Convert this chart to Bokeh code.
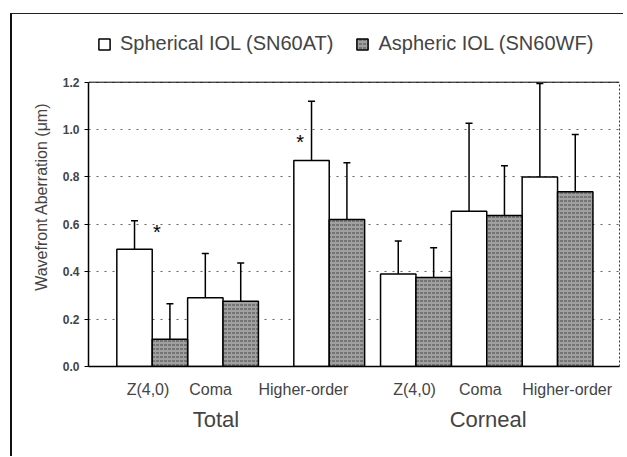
from bokeh.plotting import figure
from bokeh.models import (ColumnDataSource, Whisker, TeeHead, FixedTicker, LinearAxis,
                          Legend, LegendItem, Span, Range1d, Label)
from bokeh.embed import file_html
from bokeh.resources import INLINE

# ---------------- data ----------------
groups = ["Total", "Corneal"]
categories = ["Z(4,0)", "Coma", "Higher-order"]
series = ["Spherical IOL (SN60AT)", "Aspheric IOL (SN60WF)"]

spherical_total = [0.495, 0.29, 0.87]
spherical_total_sd = [0.12, 0.187, 0.25]
aspheric_total = [0.115, 0.275, 0.62]
aspheric_total_sd = [0.15, 0.162, 0.24]

spherical_corneal = [0.39, 0.655, 0.80]
spherical_corneal_sd = [0.14, 0.372, 0.395]
aspheric_corneal = [0.376, 0.637, 0.738]
aspheric_corneal_sd = [0.125, 0.21, 0.241]

y_ticks = [0.0, 0.2, 0.4, 0.6, 0.8, 1.0, 1.2]
y_tick_labels = ["0.0", "0.2", "0.4", "0.6", "0.8", "1.0", "1.2"]
Y_MAX = 1.2

significant = [("Total", "Z(4,0)"), ("Total", "Higher-order")]
star_y = [0.585, 0.965]

# ---------------- layout (bar-width units) ----------------
GROUP_START = {"Total": 0.8, "Corneal": 8.25}
CAT_SLOT = {"Total": [0, 2, 5], "Corneal": [0, 2, 4]}
LABEL_OFF = {"Total": [0.88, 2.65, 5.27], "Corneal": [0.96, 2.82, 5.27]}
GROUP_LABEL_OFF = {"Total": 2.8, "Corneal": 3.04}
STAR_OFF = {"Z(4,0)": 1.13, "Higher-order": 0.18}
FRAME_TOP = 1.452   # frame extends above the axis top to host the legend
FONT = "Liberation Sans"

sph_vals = {"Total": spherical_total, "Corneal": spherical_corneal}
sph_sd = {"Total": spherical_total_sd, "Corneal": spherical_corneal_sd}
asp_vals = {"Total": aspheric_total, "Corneal": aspheric_corneal}
asp_sd = {"Total": aspheric_total_sd, "Corneal": aspheric_corneal_sd}

def build(vals, sds, shift):
    xs, tops, errs = [], [], []
    for g in groups:
        for i, c in enumerate(categories):
            xs.append(GROUP_START[g] + CAT_SLOT[g][i] + shift)
            tops.append(vals[g][i])
            errs.append(vals[g][i] + sds[g][i])
    return ColumnDataSource(dict(x=xs, top=tops, err=errs))

src_sph = build(sph_vals, sph_sd, 0.5)
src_asp = build(asp_vals, asp_sd, 1.5)

p = figure(width=613, height=443, output_backend="svg", toolbar_location=None,
           x_range=Range1d(0, 15), y_range=Range1d(0, FRAME_TOP),
           min_border_left=76, min_border_right=6, min_border_top=8, min_border_bottom=91,
           background_fill_color="white", border_fill_color="white")
p.outline_line_color = None
p.styles = {"border-left": "2px solid #111111", "border-top": "1px solid #222222",
            "margin-left": "10px", "margin-top": "13px"}

r_sph = p.vbar(x="x", top="top", width=1.0, bottom=0, source=src_sph,
               fill_color="white", line_color="black", line_width=1.5)
r_asp = p.vbar(x="x", top="top", width=1.0, bottom=0, source=src_asp,
               fill_color="#a0a0a0", line_color="black", line_width=1.5,
               hatch_pattern="horizontal_dash", hatch_color="#333333",
               hatch_scale=4, hatch_weight=1, hatch_alpha=0.8)

for src in (src_sph, src_asp):
    w = Whisker(base="x", lower="top", upper="err", source=src, dimension="height",
                line_color="black", line_width=1.5,
                upper_head=TeeHead(size=7, line_color="black", line_width=1.5),
                lower_head=None)
    p.add_layout(w)

# significance stars
for (g, c), sy in zip(significant, star_y):
    i = categories.index(c)
    sx = GROUP_START[g] + CAT_SLOT[g][i] + STAR_OFF[c]
    p.add_layout(Label(x=sx, y=sy, text="*", text_font=FONT, text_font_size="20px",
                       text_align="center", text_baseline="middle", text_color="black",
                       y_offset=-4))

# top line of the plot box
p.add_layout(Span(location=Y_MAX, dimension="width", line_color="black", line_width=1))

# y axis
p.yaxis.bounds = (0, Y_MAX)
p.yaxis.ticker = FixedTicker(ticks=y_ticks)
p.yaxis.major_label_overrides = dict(zip(y_ticks, y_tick_labels))
p.yaxis.axis_label = "Wavefront Aberration  (\u03bcm)"
p.yaxis.axis_label_text_font = FONT
p.yaxis.axis_label_text_font_style = "normal"
p.yaxis.axis_label_text_font_size = "16px"
p.yaxis.axis_label_standoff = 10
p.yaxis.major_label_text_font = FONT
p.yaxis.major_label_text_font_style = "bold"
p.yaxis.major_label_text_font_size = "12px"
p.yaxis.major_label_standoff = 5
p.yaxis.major_tick_out = 4
p.yaxis.major_tick_in = 0
p.yaxis.minor_tick_line_color = None
p.yaxis.axis_line_width = 1.5
p.yaxis.axis_line_color = "black"

# right dotted side of the plot box
rax = LinearAxis(bounds=(0, Y_MAX), ticker=FixedTicker(ticks=[]),
                 major_tick_line_color=None, minor_tick_line_color=None,
                 axis_line_color="#333333", axis_line_dash="2 2", axis_line_width=1)
p.add_layout(rax, "right")

# x axis: category labels
cat_ticks, cat_over = [], {}
for g in groups:
    for i, c in enumerate(categories):
        t = GROUP_START[g] + LABEL_OFF[g][i]
        cat_ticks.append(t)
        cat_over[t] = c
p.xaxis.ticker = FixedTicker(ticks=cat_ticks)
p.xaxis.major_label_overrides = cat_over
p.xaxis.major_tick_line_color = None
p.xaxis.major_tick_out = 0
p.xaxis.minor_tick_line_color = None
p.xaxis.major_label_standoff = 14
p.xaxis.major_label_text_font = FONT
p.xaxis.major_label_text_font_size = "16px"
p.xaxis.axis_line_color = "black"
p.xaxis.axis_line_width = 1.5

# group labels
g_ticks = [GROUP_START[g] + GROUP_LABEL_OFF[g] for g in groups]
gax = LinearAxis(ticker=FixedTicker(ticks=g_ticks),
                 major_label_overrides=dict(zip(g_ticks, groups)),
                 axis_line_color=None, major_tick_line_color=None, minor_tick_line_color=None,
                 major_tick_out=0, major_label_standoff=6,
                 major_label_text_font=FONT, major_label_text_font_size="22px")
p.add_layout(gax, "below")

# grid
p.xgrid.grid_line_color = None
p.ygrid.ticker = FixedTicker(ticks=y_ticks)
p.ygrid.grid_line_color = "#666666"
p.ygrid.grid_line_dash = "2 6"
p.ygrid.grid_line_width = 1

# legend
legend = Legend(items=[LegendItem(label=series[0], renderers=[r_sph]),
                       LegendItem(label=series[1], renderers=[r_asp])],
                orientation="horizontal", location=(9, 311),
                glyph_width=14, glyph_height=14, label_standoff=9, spacing=22,
                padding=0, margin=0, border_line_color=None, background_fill_alpha=0,
                label_text_font=FONT, label_text_font_size="20px")
p.add_layout(legend)

open("out.html", "w").write(file_html(p, INLINE))
